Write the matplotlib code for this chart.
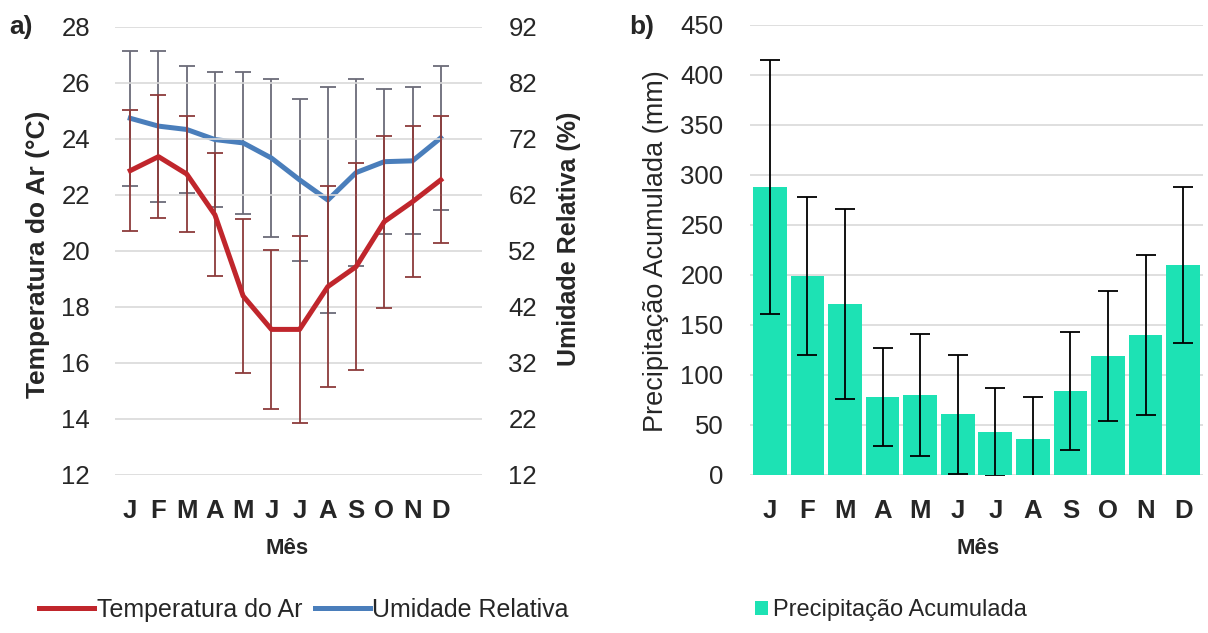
import numpy as np
import matplotlib
matplotlib.use('Agg')
import matplotlib.pyplot as plt

plt.rcParams['font.family'] = ['Liberation Sans', 'DejaVu Sans']

# dados mensais
meses = ['J', 'F', 'M', 'A', 'M', 'J', 'J', 'A', 'S', 'O', 'N', 'D']
temp = [22.87, 23.37, 22.75, 21.29, 18.39, 17.2, 17.2, 18.73, 19.44, 21.05, 21.76, 22.54]
temp_dp = [2.15, 2.2, 2.07, 2.2, 2.76, 2.85, 3.35, 3.6, 3.7, 3.07, 2.7, 2.27]
umid = [75.7, 74.3, 73.7, 71.9, 71.3, 68.6, 64.7, 61.1, 66.0, 67.95, 68.1, 72.2]
umid_dp = [12.1, 13.5, 11.3, 12.1, 12.7, 14.1, 14.4, 20.1, 16.7, 12.9, 13.1, 12.8]
precip = [288, 199, 171, 78, 80, 61, 43, 36, 84, 119, 140, 210]
precip_dp = [127, 79, 95, 48.6, 61, 59.5, 43.7, 42, 59.3, 65.3, 80.3, 77.9]

txt = '#262626'
grade = '#d9d9d9'
vermelho = '#c0262c'
azul = '#4a7ebb'
verde = '#1de2b4'

W, H = 1208, 633
fig = plt.figure(figsize=(W/100, H/100), dpi=100)
x = np.arange(len(meses))

# a) temperatura e umidade
ax1 = fig.add_axes([115/W, 1-475/H, 367/W, 448/H])
ax2 = ax1.twinx()
ax2.errorbar(x, umid, yerr=umid_dp, fmt='none', ecolor='#6b6b78', elinewidth=1.3,
             capsize=6, capthick=1.3, zorder=1)
l2, = ax2.plot(x, umid, color=azul, lw=3.6, zorder=3, label='Umidade Relativa')
ax1.errorbar(x, temp, yerr=temp_dp, fmt='none', ecolor='#8c3b3b', elinewidth=1.3,
             capsize=6, capthick=1.3, zorder=2)
l1, = ax1.plot(x, temp, color=vermelho, lw=3.6, zorder=3, label='Temperatura do Ar')
ax1.set_zorder(ax2.get_zorder() + 1)
ax1.patch.set_visible(False)

ax1.set_xlim(-0.54, 12.46)
ax1.set_ylim(12, 28)
ax1.set_yticks(np.arange(12, 29, 2))
ax2.set_ylim(12, 92)
ax2.set_yticks(np.arange(12, 93, 10))
ax1.set_xticks(x)
ax1.set_xticklabels(meses, fontsize=18, fontweight='bold', color=txt)
ax1.yaxis.grid(True, color=grade, lw=1.2)
ax1.set_axisbelow(True)
for ax in [ax1, ax2]:
    for s in ax.spines.values():
        s.set_visible(False)
    ax.tick_params(length=0, labelsize=18.5, labelcolor=txt)
ax1.tick_params(axis='x', pad=17)
ax1.tick_params(axis='y', pad=18)
ax2.tick_params(axis='y', pad=19)
ax1.set_ylabel('Temperatura do Ar (°C)', fontsize=19, fontweight='bold', color=txt)
ax1.yaxis.set_label_coords(50/W, 1-254/H, transform=fig.transFigure)
ax2.set_ylabel('Umidade Relativa (%)', fontsize=18, fontweight='bold', color=txt,
               rotation=90)
ax2.yaxis.set_label_coords(557/W, 1-239/H, transform=fig.transFigure)
fig.text(287/W, 1-548/H, 'Mês', fontsize=16, fontweight='bold', color=txt,
         ha='center', va='center')
fig.text(21/W, 1-27/H, 'a)', fontsize=19, fontweight='bold', color=txt,
         ha='center', va='center')
fig.legend(handles=[l1, l2], loc='center', bbox_to_anchor=(304/W, 1-610/H),
           ncol=2, frameon=False, fontsize=18, handlelength=2.2, handletextpad=0.1,
           columnspacing=0.5, labelcolor=txt)

# b) precipitacao
ax3 = fig.add_axes([750/W, 1-475/H, 453/W, 450/H])
b = ax3.bar(x, precip, width=0.9, color=verde, zorder=2, label='Precipitação Acumulada')
ax3.errorbar(x, precip, yerr=precip_dp, fmt='none', ecolor='black', elinewidth=1.3,
             capsize=7, capthick=1.3, zorder=3)
ax3.set_xlim(-0.53, 11.53)
ax3.set_ylim(0, 450)
ax3.set_yticks(np.arange(0, 451, 50))
ax3.set_xticks(x)
ax3.set_xticklabels(meses, fontsize=18, fontweight='bold', color=txt)
ax3.yaxis.grid(True, color=grade, lw=1.2)
ax3.set_axisbelow(True)
for s in ax3.spines.values():
    s.set_visible(False)
ax3.tick_params(length=0, labelsize=18.5, labelcolor=txt)
ax3.tick_params(axis='x', pad=17)
ax3.tick_params(axis='y', pad=19)
ax3.set_ylabel('Precipitação Acumulada (mm)', fontsize=19.5, color=txt)
ax3.yaxis.set_label_coords(669/W, 1-251/H, transform=fig.transFigure)
fig.text(978/W, 1-548/H, 'Mês', fontsize=16, fontweight='bold', color=txt,
         ha='center', va='center')
fig.text(642/W, 1-27/H, 'b)', fontsize=19, fontweight='bold', color=txt,
         ha='center', va='center')
fig.legend(handles=[b], loc='center', bbox_to_anchor=(891/W, 1-610/H),
           frameon=False, fontsize=17, handlelength=0.55, handleheight=0.55,
           handletextpad=0.2, labelcolor=txt)

fig.savefig('out.png', dpi=100)
